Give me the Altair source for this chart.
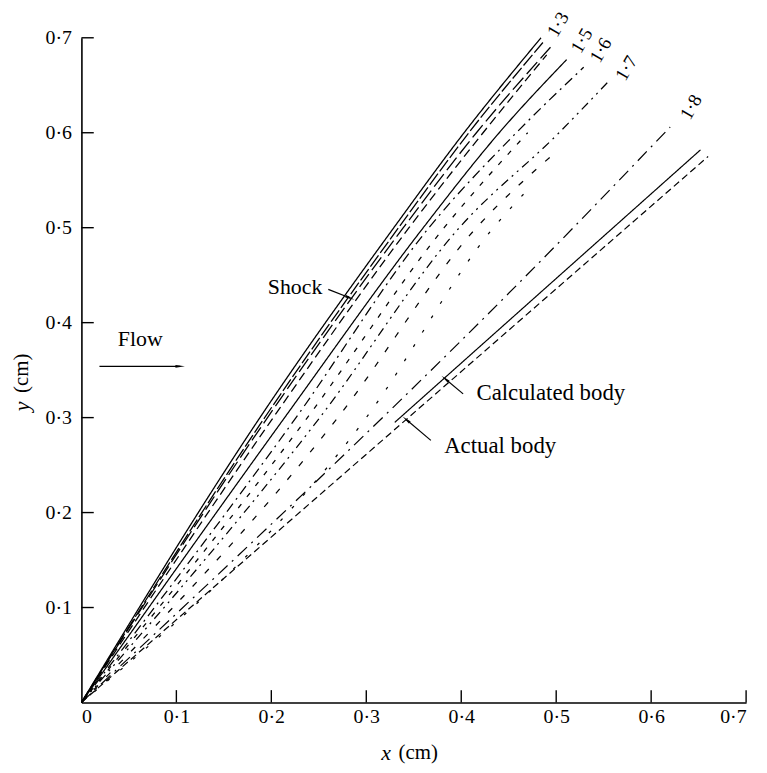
import math
import altair as alt
import pandas as pd

# ---------------- data ----------------
x_ticks = [0, 0.1, 0.2, 0.3, 0.4, 0.5, 0.6, 0.7]
y_ticks = [0.1, 0.2, 0.3, 0.4, 0.5, 0.6, 0.7]

line_names = ["A", "B", "C", "D", "E", "F", "G", "H", "I", "J", "K", "calc", "actual"]
line_x = [
    [0, 0.188, 0.329, 0.403, 0.484],
    [0, 0.193, 0.334, 0.408, 0.486],
    [0, 0.196, 0.339, 0.416, 0.494],
    [0, 0.202, 0.345, 0.423, 0.490],
    [0, 0.214, 0.360, 0.440, 0.511],
    [0, 0.226, 0.366, 0.458, 0.529],
    [0, 0.238, 0.382, 0.470],
    [0, 0.251, 0.398, 0.503, 0.556],
    [0, 0.270, 0.416, 0.500],
    [0, 0.300, 0.434, 0.470],
    [0, 0.518, 0.620],
    [0.33, 0.652],
    [0, 0.660],
]
line_y = [
    [0, 0.3, 0.5, 0.6, 0.700],
    [0, 0.3, 0.5, 0.6, 0.695],
    [0, 0.3, 0.5, 0.6, 0.690],
    [0, 0.3, 0.5, 0.6, 0.682],
    [0, 0.3, 0.5, 0.6, 0.677],
    [0, 0.3, 0.5, 0.6, 0.669],
    [0, 0.3, 0.5, 0.600],
    [0, 0.3, 0.5, 0.6, 0.655],
    [0, 0.3, 0.5, 0.580],
    [0, 0.3, 0.5, 0.540],
    [0, 0.5, 0.606],
    [0.295, 0.582],
    [0, 0.575],
]
line_dash = [
    [1, 0], [14, 3], [16, 5], [9, 5], [1, 0], [10, 5, 2, 5], [5, 9],
    [9, 5, 2, 5, 2, 5], [6, 12], [3, 14], [13, 6, 2, 6], [1, 0], [7, 4],
]
line_width = [1.3, 1.2, 1.2, 1.0, 1.0, 1.0, 1.0, 1.0, 1.0, 1.0, 1.1, 1.4, 1.1]

mach_labels = ["1·3", "1·5", "1·6", "1·7", "1·8"]
mach_x = [0.502, 0.527, 0.547, 0.574, 0.642]
mach_y = [0.714, 0.697, 0.687, 0.668, 0.627]

note_text = ["Shock", "Calculated body", "Actual body", "Flow"]
note_x = [0.225, 0.416, 0.382, 0.062]
note_y = [0.438, 0.326, 0.270, 0.383]
note_align = ["center", "left", "left", "center"]

arrow_x0 = [0.260, 0.402, 0.368, 0.019]
arrow_y0 = [0.435, 0.325, 0.276, 0.354]
arrow_x1 = [0.283, 0.383, 0.342, 0.104]
arrow_y1 = [0.426, 0.341, 0.298, 0.354]

# ---------------- tables ----------------
rows = []
for n, xs_, ys_ in zip(line_names, line_x, line_y):
    for i, (a, b) in enumerate(zip(xs_, ys_)):
        rows.append({"line": n, "x": a, "y": b, "o": i})
lines_df = pd.DataFrame(rows)

FONT = "Liberation Serif"
LBL = "datum.value == 0 ? '0' : replace(format(datum.value, '.1f'), '.', '·')"
xs = alt.Scale(domain=[0, 0.7], nice=False, zero=False)
ys = alt.Scale(domain=[0, 0.7], nice=False, zero=False)

lines = alt.Chart(lines_df).mark_line(color="black", clip=False, interpolate="monotone").encode(
    x=alt.X("x:Q", scale=xs, axis=alt.Axis(values=x_ticks, ticks=False, grid=False, title=None,
                                             labelExpr=LBL, labelFont=FONT, labelFontSize=20,
                                             labelColor="black", labelPadding=4,
                                             domainColor="black", domainWidth=1.6)),
    y=alt.Y("y:Q", scale=ys, axis=alt.Axis(values=y_ticks, ticks=False, grid=False, title=None,
                                             labelExpr=LBL, labelFont=FONT, labelFontSize=20,
                                             labelColor="black", labelPadding=10,
                                             domainColor="black", domainWidth=1.6)),
    order="o:Q",
    strokeDash=alt.StrokeDash("line:N", scale=alt.Scale(domain=line_names, range=line_dash), legend=None),
    strokeWidth=alt.StrokeWidth("line:N", scale=alt.Scale(domain=line_names, range=line_width), legend=None),
)

# inward ticks
tick_len = 0.013
xt = pd.DataFrame({"x": x_ticks[1:], "y": [0] * 7, "y2": [tick_len] * 7})
yt = pd.DataFrame({"x": [0] * 7, "x2": [tick_len] * 7, "y": y_ticks})
xticks = alt.Chart(xt).mark_rule(color="black", strokeWidth=1.4).encode(
    x=alt.X("x:Q", scale=xs), y=alt.Y("y:Q", scale=ys), y2="y2:Q")
yticks = alt.Chart(yt).mark_rule(color="black", strokeWidth=1.4).encode(
    x=alt.X("x:Q", scale=xs), x2="x2:Q", y=alt.Y("y:Q", scale=ys))

mach_df = pd.DataFrame({"t": mach_labels, "x": mach_x, "y": mach_y})
mach = alt.Chart(mach_df).mark_text(font=FONT, fontSize=19, angle=300, color="black").encode(
    x=alt.X("x:Q", scale=xs), y=alt.Y("y:Q", scale=ys), text="t:N")

notes_df = pd.DataFrame({"t": note_text, "x": note_x, "y": note_y, "al": note_align})
notes_c = alt.Chart(notes_df[notes_df.al == "center"]).mark_text(
    font=FONT, fontSize=22, color="black", align="center").encode(
    x=alt.X("x:Q", scale=xs), y=alt.Y("y:Q", scale=ys), text="t:N")
notes_l = alt.Chart(notes_df[notes_df.al == "left"]).mark_text(
    font=FONT, fontSize=23, color="black", align="left").encode(
    x=alt.X("x:Q", scale=xs), y=alt.Y("y:Q", scale=ys), text="t:N")

ang = [(math.degrees(math.atan2(x1 - x0, y1 - y0)) + 360) % 360
       for x0, y0, x1, y1 in zip(arrow_x0, arrow_y0, arrow_x1, arrow_y1)]
arr_df = pd.DataFrame({"x0": arrow_x0, "y0": arrow_y0, "x1": arrow_x1, "y1": arrow_y1, "ang": ang})
arr_lines = alt.Chart(arr_df).mark_rule(color="black", strokeWidth=1.2).encode(
    x=alt.X("x0:Q", scale=xs), y=alt.Y("y0:Q", scale=ys), x2="x1:Q", y2="y1:Q")
arr_heads = alt.Chart(arr_df).mark_point(
    shape="M0,-1L0.3,1L-0.3,1Z", filled=True, color="black", opacity=1, size=90).encode(
    x=alt.X("x1:Q", scale=xs), y=alt.Y("y1:Q", scale=ys), angle=alt.Angle("ang:Q", scale=None))

# axis titles (italic variable + upright unit)
tx = pd.DataFrame({"x": [0.326], "y": [-0.053]})
tu = pd.DataFrame({"x": [0.334], "y": [-0.053]})
xt_var = alt.Chart(tx).mark_text(text="x", font=FONT, fontStyle="italic", fontSize=22,
                                 align="right", color="black").encode(
    x=alt.X("x:Q", scale=xs), y=alt.Y("y:Q", scale=ys))
xt_unit = alt.Chart(tu).mark_text(text="(cm)", font=FONT, fontSize=21, align="left", color="black").encode(
    x=alt.X("x:Q", scale=xs), y=alt.Y("y:Q", scale=ys))
yv = pd.DataFrame({"x": [-0.063], "y": [0.317]})
yu = pd.DataFrame({"x": [-0.063], "y": [0.326]})
yt_var = alt.Chart(yv).mark_text(text="y", font=FONT, fontStyle="italic", fontSize=22, angle=270,
                                 align="right", color="black").encode(
    x=alt.X("x:Q", scale=xs), y=alt.Y("y:Q", scale=ys))
yt_unit = alt.Chart(yu).mark_text(text="(cm)", font=FONT, fontSize=21, angle=270,
                                  align="left", color="black").encode(
    x=alt.X("x:Q", scale=xs), y=alt.Y("y:Q", scale=ys))

chart = alt.layer(
    lines, xticks, yticks, mach, notes_c, notes_l, arr_lines, arr_heads,
    xt_var, xt_unit, yt_var, yt_unit
).properties(
    width=670, height=670,
    autosize=alt.AutoSizeParams(type="none"),
    padding={"left": 74, "top": 27, "right": 13, "bottom": 60},
    background="white",
).configure_view(stroke=None)

chart.save("out.html", embed_options={"renderer": "svg", "actions": False})
